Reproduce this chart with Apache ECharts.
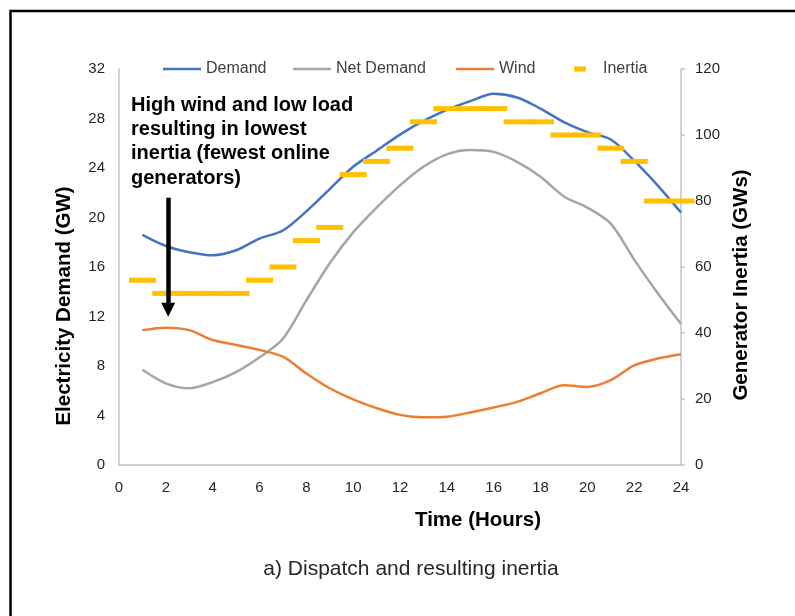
<!DOCTYPE html>
<html>
<head>
<meta charset="utf-8">
<script src="https://cdn.jsdelivr.net/npm/echarts@6/dist/echarts.min.js"></script>
<style>
html,body{margin:0;padding:0;background:#fff;}
#chart{width:795px;height:616px;}
</style>
</head>
<body>
<div id="chart"></div>
<script>
// ---- data ----
var hours = [1,2,3,4,5,6,7,8,9,10,11,12,13,14,15,16,17,18,19,20,21,22,23,24];
var demand = [18.6,17.7,17.2,16.95,17.35,18.3,18.95,20.5,22.3,24.1,25.4,26.7,27.8,28.7,29.4,30.0,29.7,28.8,27.7,26.9,26.3,24.6,22.6,20.4];
var netDemand = [7.7,6.6,6.2,6.7,7.5,8.7,10.2,13.3,16.3,18.8,20.8,22.6,24.1,25.1,25.45,25.3,24.5,23.3,21.7,20.8,19.5,16.6,13.9,11.4];
var wind = [10.9,11.1,10.9,10.1,9.7,9.3,8.75,7.4,6.2,5.3,4.6,4.05,3.85,3.9,4.25,4.65,5.1,5.8,6.45,6.3,6.85,8.05,8.6,8.95];
var inertia = [56,52,52,52,52,56,60,68,72,88,92,96,104,108,108,108,104,104,100,100,96,92,80,80];
var xTicks = [0,2,4,6,8,10,12,14,16,18,20,22,24];
var annotationLines = ["High wind and low load","resulting in lowest","inertia (fewest online","generators)"];
var arrowFrom = [2.1, 21.6];
var arrowTo = [2.1, 12.55];

function pairs(xs, ys){ return xs.map(function(x,i){ return [x, ys[i]]; }); }

var FONT = "'Liberation Sans', Arial, sans-serif";
var AXIS_GRAY = '#C4C4C4';
var LABEL = '#262626';

var chart = echarts.init(document.getElementById('chart'), null, {renderer:'canvas'});

function legendFor(name, left, extra){
  var l = {
    data:[{name:name, icon:'rect'}], left:left, top:61, padding:0,
    itemWidth:38, itemHeight:2.5, itemGap:0,
    textStyle:{fontFamily:FONT, fontSize:16, color:'#404040'},
    selectedMode:false
  };
  for (var k in extra) l[k] = extra[k];
  return l;
}

var option = {
  animation:false,
  backgroundColor:'#fff',
  textStyle:{fontFamily:FONT},
  title:{
    text:'a) Dispatch and resulting inertia',
    left:406, top:554, textAlign:'center',
    textStyle:{fontFamily:FONT, fontSize:21, fontWeight:'normal', color:'#262626'}
  },
  legend:[
    legendFor('Demand',163),
    legendFor('Net Demand',293),
    legendFor('Wind',456),
    legendFor('Inertia',574,{itemWidth:12,itemHeight:5,
      textStyle:{fontFamily:FONT,fontSize:16,color:'#404040',padding:[0,0,0,12]}})
  ],
  grid:{left:119, right:114, top:69, bottom:151, containLabel:false},
  xAxis:{
    type:'value', min:0, max:24, interval:2,
    name:'Time (Hours)', nameLocation:'middle', nameGap:45,
    nameTextStyle:{fontFamily:FONT, fontSize:20.5, fontWeight:'bold', color:'#000', padding:[0,0,0,156]},
    axisLine:{show:true, onZero:false, lineStyle:{color:AXIS_GRAY, width:1.5}},
    axisTick:{show:false},
    splitLine:{show:false},
    axisLabel:{fontSize:15, color:LABEL, margin:15}
  },
  yAxis:[
    {
      type:'value', min:0, max:32, interval:4, position:'left',
      name:'Electricity Demand (GW)', nameLocation:'middle', nameGap:44, nameRotate:90,
      nameTextStyle:{fontFamily:FONT, fontSize:20.5, fontWeight:'bold', color:'#000', padding:[0,78,0,0]},
      axisLine:{show:true, onZero:false, lineStyle:{color:AXIS_GRAY, width:1.5}},
      axisTick:{show:false},
      splitLine:{show:false},
      axisLabel:{fontSize:15, color:LABEL, margin:14}
    },
    {
      type:'value', min:0, max:120, interval:20, position:'right',
      name:'Generator Inertia (GWs)', nameLocation:'middle', nameGap:50, nameRotate:90,
      nameTextStyle:{fontFamily:FONT, fontSize:20.5, fontWeight:'bold', color:'#000', padding:[0,36,0,0]},
      axisLine:{show:true, onZero:false, lineStyle:{color:AXIS_GRAY, width:1.5}},
      axisTick:{show:true, length:4, inside:false, lineStyle:{color:AXIS_GRAY, width:1.5}},
      splitLine:{show:false},
      axisLabel:{fontSize:15, color:LABEL, margin:14}
    }
  ],
  series:[
    {
      name:'Demand', type:'line', yAxisIndex:0, data:pairs(hours, demand),
      symbol:'none', smooth:0.3, lineStyle:{color:'#4472C4', width:2.5}, itemStyle:{color:'#4472C4'},
      z:2
    },
    {
      name:'Net Demand', type:'line', yAxisIndex:0, data:pairs(hours, netDemand),
      symbol:'none', smooth:0.3, lineStyle:{color:'#A5A5A5', width:2.5}, itemStyle:{color:'#A5A5A5'},
      z:2
    },
    {
      name:'Wind', type:'line', yAxisIndex:0, data:pairs(hours, wind),
      symbol:'none', smooth:0.3, lineStyle:{color:'#ED7D31', width:2.5}, itemStyle:{color:'#ED7D31'},
      z:2,
      markLine:{
        silent:true, animation:false,
        symbol:['none','triangle'], symbolSize:14, symbolRotate:180,
        label:{show:false},
        itemStyle:{color:'#000'},
        lineStyle:{color:'#000', width:4.5, type:'solid', opacity:1},
        emphasis:{disabled:true},
        data:[[{coord:arrowFrom},{coord:arrowTo}]]
      }
    },
    {
      name:'Inertia', type:'scatter', yAxisIndex:1, data:pairs(hours, inertia),
      symbol:'rect', symbolSize:[27,5], clip:false,
      itemStyle:{color:'#FFC000', opacity:1}, z:3
    }
  ],
  graphic:[
    {
      type:'rect', x:0, y:0, silent:true, z:-10,
      shape:{x:10.5,y:11,width:820,height:640},
      style:{fill:null, stroke:'#000', lineWidth:2.5}
    },
    {
      type:'text', left:131, top:93, silent:true, z:10,
      style:{
        text:annotationLines.join('\n'),
        fontFamily:FONT, fontSize:20, fontWeight:'bold', fill:'#000',
        lineHeight:24.3
      }
    }
  ]
};
chart.setOption(option);
</script>
</body>
</html>
